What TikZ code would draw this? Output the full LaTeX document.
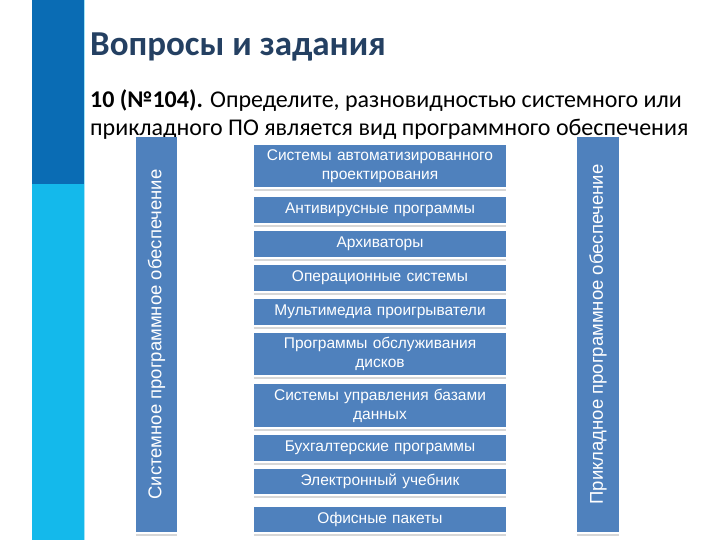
\documentclass[tikz,border=0pt]{standalone}
\usepackage{fontspec}
\setmainfont{Carlito}
\newfontfamily\arialf{Liberation Sans}
\usetikzlibrary{positioning}
\definecolor{darkband}{RGB}{10,108,180}
\definecolor{lightband}{RGB}{20,185,235}
\definecolor{titleblue}{RGB}{36,64,98}
\definecolor{boxblue}{RGB}{79,129,189}
\definecolor{shadegray}{RGB}{215,215,215}
\tikzset{item/.style={fill=boxblue,text=white,inner sep=0pt,minimum width=252pt,text width=250pt,align=center,font=\arialf\fontsize{15.5}{19}\selectfont}}
\tikzset{bar/.style={fill=boxblue,text=white,inner sep=0pt,minimum width=395pt,rotate=90,font=\arialf\fontsize{18.5}{20}\selectfont}}
\tikzset{shade/.style={draw=shadegray,line width=1.6pt}}

\begin{document}
\begin{tikzpicture}[x=1pt,y=-1pt]
  \useasboundingbox[fill=white] (0,0) rectangle (720,540);
  % side band
  \fill [darkband] (32,0) rectangle (84,184);
  \fill [lightband] (32,184) rectangle (84,540);
  \draw [lightband!40,line width=0.8pt] (84,0) -- (84,540);
  % heading
  \node (title) [anchor=base west,inner sep=0pt,text=titleblue,font=\fontsize{35}{35}\selectfont\bfseries] at (90,56) {Вопросы и задания};
  \node (task) [anchor=base west,inner sep=0pt,align=left,font=\fontsize{24}{28}\selectfont] at (90,136)
    {\textbf{10 (№104).} Определите, разновидностью системного или\\прикладного ПО является вид программного обеспечения};
  % columns
  \node (sys) [bar,minimum height=41pt] at (156.5,334.5) {Системное программное обеспечение};
  \node (app) [bar,minimum height=42pt] at (598,334.5) {Прикладное программное обеспечение};
  % kinds of software
  \node (k1) [item,minimum height=42pt] at (380,166) {Системы автоматизированного\\проектирования};
  \node (k2) [item,minimum height=26pt] at (380,210) {Антивирусные программы};
  \node (k3) [item,minimum height=26pt] at (380,244) {Архиваторы};
  \node (k4) [item,minimum height=26pt] at (380,278) {Операционные системы};
  \node (k5) [item,minimum height=26pt] at (380,312) {Мультимедиа проигрыватели};
  \node (k6) [item,minimum height=42pt] at (380,354) {Программы обслуживания\\дисков};
  \node (k7) [item,minimum height=43pt] at (380,405.5) {Системы управления базами\\данных};
  \node (k8) [item,minimum height=26pt] at (380,448) {Бухгалтерские программы};
  \node (k9) [item,minimum height=25pt] at (380,481.5) {Электронный учебник};
  \node (k10) [item,minimum height=25pt] at (380,519.5) {Офисные пакеты};
  % shadows under the boxes
  \foreach \n in {sys,app}
    \draw [shade] ([yshift=-3pt]\n.north west) -- ([yshift=-3pt]\n.south west);
  \foreach \n in {k1,k2,k3,k4,k5,k6,k7,k8,k9,k10}
    \draw [shade] ([yshift=-3pt]\n.south west) -- ([yshift=-3pt]\n.south east);
\end{tikzpicture}
\end{document}
